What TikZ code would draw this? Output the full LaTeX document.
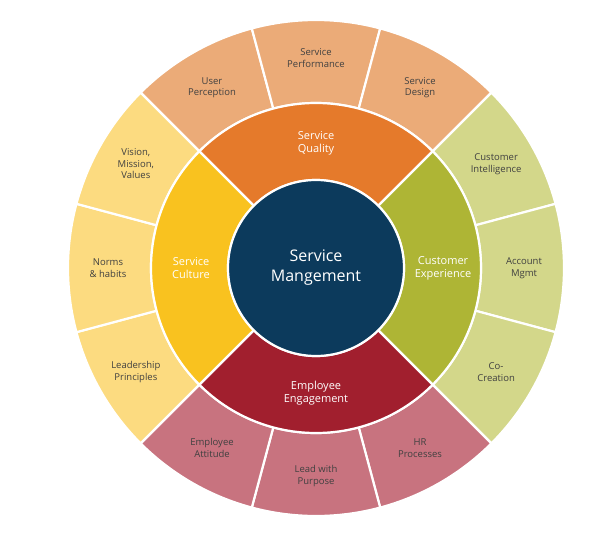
\documentclass[tikz,border=0pt]{standalone}
\usepackage{fontspec}
\setmainfont{Open Sans}
\begin{document}
\begin{tikzpicture}[x=1pt,y=1pt,
  seg/.style={draw=white,line width=2.2pt},
  otxt/.style={align=center,font=\fontsize{9.5}{11.5}\selectfont,text=black!75},
  mtxt/.style={align=center,font=\fontsize{11}{13}\selectfont,text=white}]
\useasboundingbox (0,0) rectangle (616,-535);
\definecolor{oT}{HTML}{EBAB78}\definecolor{mT}{HTML}{E57A2B}
\definecolor{oR}{HTML}{D3D78A}\definecolor{mR}{HTML}{AEB535}
\definecolor{oB}{HTML}{C8737F}\definecolor{mB}{HTML}{A11F2E}
\definecolor{oL}{HTML}{FCDB80}\definecolor{mL}{HTML}{F9C21F}
\definecolor{ctr}{HTML}{0C3A5C}
\begin{scope}[shift={(316,-268)}]
% outer segments
\foreach \a/\c in {135/oT,105/oT,75/oT,45/oR,15/oR,-15/oR,-45/oB,-75/oB,-105/oB,-135/oL,-165/oL,165/oL}{
  \filldraw[seg,fill=\c] (\a-30:248) arc (\a-30:\a:248) -- (\a:165) arc (\a:\a-30:165) -- cycle;}
% middle ring
\foreach \a/\c in {135/mT,45/mR,-45/mB,-135/mL}{
  \filldraw[seg,fill=\c] (\a-90:165) arc (\a-90:\a:165) -- (\a:88) arc (\a:\a-90:88) -- cycle;}
\filldraw[fill=ctr,draw=white,line width=2.2pt] (0,0) circle (88);
\node[align=center,text=white,font=\fontsize{16}{20}\selectfont] (c) at (0,0) {Service\\Mangement};
\node[mtxt] (q) at (90:125) {Service\\Quality};
\node[mtxt] (e) at (0:127) {Customer\\Experience};
\node[mtxt] (g) at (-90:125) {Employee\\Engagement};
\node[mtxt] (u) at (180:125) {Service\\Culture};
\node[otxt] (o1) at (120:208) {User\\Perception};
\node[otxt] (o2) at (90:210) {Service\\Performance};
\node[otxt] (o3) at (60:208) {Service\\Design};
\node[otxt] (o4) at (30:208) {Customer\\Intelligence};
\node[otxt] (o5) at (0:208) {Account\\Mgmt};
\node[otxt] (o6) at (-30:208) {Co-\\Creation};
\node[otxt] (o7) at (-60:208) {HR\\Processes};
\node[otxt] (o8) at (-90:208) {Lead with\\Purpose};
\node[otxt] (o9) at (-120:208) {Employee\\Attitude};
\node[otxt] (o10) at (-150:208) {Leadership\\Principles};
\node[otxt] (o11) at (180:208) {Norms\\\& habits};
\node[otxt] (o12) at (150:208) {Vision,\\Mission,\\Values};
\end{scope}
\end{tikzpicture}
\end{document}
